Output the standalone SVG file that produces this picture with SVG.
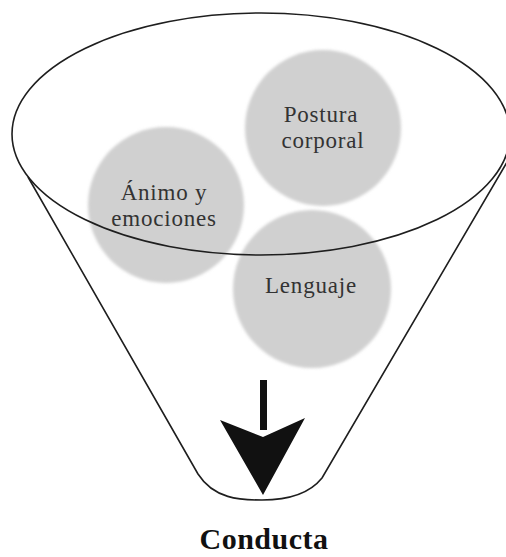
<svg xmlns="http://www.w3.org/2000/svg" width="506" height="557" viewBox="0 0 506 557">
  <style>
    .bubble { fill: #d0d0d0; filter: url(#soft); }
    .lbl { font-family: "Liberation Serif", "Times New Roman", serif; font-size: 23px; letter-spacing: 0.8px; fill: #333333; text-anchor: middle; }
    .title { font-family: "Liberation Serif", "Times New Roman", serif; font-size: 30px; font-weight: bold; letter-spacing: 0.5px; fill: #111; text-anchor: middle; }
    .outline { fill: none; stroke: #1e1e1e; stroke-width: 1.6; }
  </style>
  <defs>
    <filter id="soft" x="-10%" y="-10%" width="120%" height="120%">
      <feGaussianBlur stdDeviation="1.8"/>
    </filter>
  </defs>
  <rect width="506" height="557" fill="#ffffff"/>

  <g id="postura">
    <circle class="bubble" cx="323" cy="128" r="78"/>
    <text class="lbl" x="321" y="122">Postura</text>
    <text class="lbl" x="323" y="148">corporal</text>
  </g>
  <g id="animo">
    <circle class="bubble" cx="166" cy="205" r="78"/>
    <text class="lbl" x="164" y="200">Ánimo y</text>
    <text class="lbl" x="164" y="226">emociones</text>
  </g>
  <g id="lenguaje">
    <circle class="bubble" cx="312" cy="289" r="79"/>
    <text class="lbl" x="311" y="293">Lenguaje</text>
  </g>

  <g id="funnel">
    <ellipse class="outline" cx="261" cy="134" rx="249" ry="121"/>
    <path class="outline" d="M28,177 L198,474 C214,499 240,500 262,500 C290,500 310,493 322,478 L510,157"/>
  </g>

  <g id="connectors">
    <rect x="260" y="380" width="7" height="50" fill="#111"/>
    <polygon points="220,420 263,437 305,418 263,495" fill="#111"/>
  </g>

  <g id="conducta">
    <text class="title" x="264" y="549">Conducta</text>
  </g>
</svg>
